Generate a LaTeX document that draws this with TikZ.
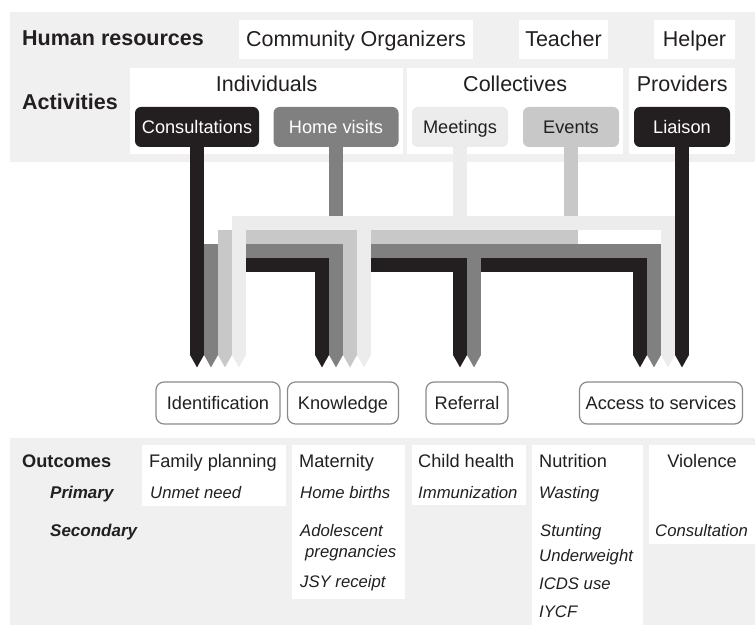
\documentclass[tikz,border=0pt]{standalone}
\usepackage{fontspec}
\setmainfont{Liberation Sans}
\usepackage{xcolor}
\usetikzlibrary{arrows.meta, positioning, calc}
\definecolor{ink}{HTML}{231F20}
\definecolor{inkgray}{HTML}{808080}
\definecolor{inklight}{HTML}{C8C8C8}
\definecolor{inkpale}{HTML}{EBECEB}
\definecolor{panelgray}{HTML}{F0F0F0}
\definecolor{framegray}{HTML}{8A8A8A}
\newcommand{\sizebig}{\fontsize{21.5}{25}\selectfont}
\newcommand{\sizesmall}{\fontsize{18.2}{22}\selectfont}
\newcommand{\sizeitem}{\fontsize{16.7}{20}\selectfont}
\tikzstyle{cell} = [rectangle, fill=white, draw=none, inner sep=0pt, anchor=north west]
\tikzstyle{hrbox} = [rectangle, fill=white, minimum height=39pt, text height=15pt, text depth=0pt, inner sep=0pt, font=\sizebig, text=ink]
\tikzstyle{heading} = [inner sep=0pt, anchor=base, font=\sizebig, text=ink]
\tikzstyle{rowhead} = [inner sep=0pt, anchor=base west, font=\sizebig\bfseries, text=ink]
\tikzstyle{activity} = [rectangle, rounded corners=6pt, minimum height=40pt, text height=13pt, text depth=0pt, inner sep=0pt, font=\sizesmall]
\tikzstyle{outcome} = [rectangle, rounded corners=8pt, draw=framegray, line width=1.2pt, fill=white, minimum height=42pt, text height=13pt, text depth=0pt, inner sep=0pt, font=\sizesmall, text=ink]
\tikzstyle{txt} = [inner sep=0pt, anchor=base west, font=\sizesmall, text=ink]
\tikzstyle{txtit} = [txt, font=\sizeitem\itshape]
\tikzstyle{txtbf} = [txt, font=\sizesmall\bfseries]
\tikzstyle{txtbi} = [txt, font=\fontsize{17}{20}\selectfont\bfseries\itshape]
\tikzstyle{flow} = [line width=14pt, -{Triangle[width=14pt, length=12.5pt, line width=0pt]}]
\begin{document}
\begin{tikzpicture}[x=1pt, y=-1pt]
    \useasboundingbox (0,0) rectangle (755,628);
    \fill[panelgray] (10,12) rectangle (755,162);
    \fill[panelgray] (10,438) rectangle (755,625);

    % resources and activities
    \node[rowhead] (hrlabel) at (22,46) {Human resources};
    \node[rowhead] (actlabel) at (22,110) {Activities};
    \node[hrbox, minimum width=234pt] (organizers) at (356,39.5) {Community Organizers};
    \node[hrbox, minimum width=89pt] (teacher) at (563.5,39.5) {Teacher};
    \node[hrbox, minimum width=81pt] (helper) at (694.5,39.5) {Helper};

    \node[cell, minimum width=273pt, minimum height=86pt] (individuals) at (130,68) {};
    \node[cell, minimum width=216pt, minimum height=86pt] (collectives) at (407,68) {};
    \node[cell, minimum width=106pt, minimum height=86pt] (providers) at (629,68) {};
    \node[heading] (indlabel) at ($(individuals.north)+(0,24)$) {Individuals};
    \node[heading] (collabel) at ($(collectives.north)+(0,24)$) {Collectives};
    \node[heading] (provlabel) at ($(providers.north)+(0,24)$) {Providers};

    \node[activity, fill=ink, text=white, minimum width=124pt] (consult) at (197,127) {Consultations};
    \node[activity, fill=inkgray, text=white, minimum width=125pt] (visits) at (336,127) {Home visits};
    \node[activity, fill=inkpale, text=ink, minimum width=96pt] (meetings) at (460,127) {Meetings};
    \node[activity, fill=inklight, text=ink, minimum width=96pt] (events) at (571,127) {Events};
    \node[activity, fill=ink, text=white, minimum width=96pt] (liaison) at (682,127) {Liaison};

    % intermediate outcomes
    \node[outcome, minimum width=124pt] (ident) at (218,403) {Identification};
    \node[outcome, minimum width=111pt] (knowledge) at (343,403) {Knowledge};
    \node[outcome, minimum width=82pt] (referral) at (467,403) {Referral};
    \node[outcome, minimum width=163pt] (access) at (661,403) {Access to services};

    % bus levels and arrow ends
    \coordinate (busV) at (0,223);
    \coordinate (busL) at (0,237);
    \coordinate (busG) at (0,251);
    \coordinate (busK) at (0,265);
    \foreach \c/\dx in {K/-21, G/-7, L/7, V/21} {
        \coordinate (ident\c) at ($(ident.north)+(\dx,-14)$);
        \coordinate (know\c) at ($(knowledge.north)+(\dx,-14)$);
    }
    \coordinate (refK) at ($(referral.north)+(-7,-14)$);
    \coordinate (refG) at ($(referral.north)+(7,-14)$);
    \coordinate (accK) at ($(access.north)+(-21,-14)$);
    \coordinate (accG) at ($(access.north)+(-7,-14)$);
    \coordinate (accV) at ($(access.north)+(7,-14)$);
    \coordinate (accP) at ($(access.north)+(21,-14)$);

    \draw[flow, ink] (liaison.south) -- (accP);
    \draw[flow, ink] (consult.south) -- (identK);
    \draw[flow, ink] (consult.south |- busK) -| (knowK);
    \draw[flow, ink] (consult.south |- busK) -| (refK);
    \draw[flow, ink] (consult.south |- busK) -| (accK);

    \draw[flow, inkgray] (visits.south) -- (knowG);
    \draw[flow, inkgray] (visits.south |- busG) -| (identG);
    \draw[flow, inkgray] (visits.south |- busG) -| (refG);
    \draw[flow, inkgray] (visits.south |- busG) -| (accG);

    \draw[flow, inklight] (events.south) |- (identL |- busL) -- (identL);
    \draw[flow, inklight] (events.south) |- (knowL |- busL) -- (knowL);

    \draw[flow, inkpale] (meetings.south) |- (identV |- busV) -- (identV);
    \draw[flow, inkpale] (meetings.south) |- (knowV |- busV) -- (knowV);
    \draw[flow, inkpale] (meetings.south) |- (accV |- busV) -- (accV);

    % final outcomes
    \node[cell, minimum width=144pt, minimum height=61pt] (famplan) at (142,445) {};
    \node[cell, minimum width=113pt, minimum height=154pt] (maternity) at (292,445) {};
    \node[cell, minimum width=114pt, minimum height=60pt] (childhealth) at (412,445) {};
    \node[cell, minimum width=111pt, minimum height=180pt] (nutrition) at (532,445) {};
    \node[cell, minimum width=106pt, minimum height=99pt] (violence) at (649,445) {};

    \node[txtbf] (outlabel) at (22,467) {Outcomes};
    \node[txtbi] (primlabel) at (50,498) {Primary};
    \node[txtbi] (seclabel) at (50,536) {Secondary};

    \node[txt] (fphead) at (149,467) {Family planning};
    \node[txtit] (fp1) at (150,498) {Unmet need};
    \node[txt] (mathead) at (299,467) {Maternity};
    \node[txtit] (mat1) at (300,498) {Home births};
    \node[txtit] (mat2) at (300,536) {Adolescent};
    \node[txtit] (mat3) at (305,557) {pregnancies};
    \node[txtit] (mat4) at (300,587) {JSY receipt};
    \node[txt] (chhead) at (418,467) {Child health};
    \node[txtit] (ch1) at (418,498) {Immunization};
    \node[txt] (nuthead) at (539,467) {Nutrition};
    \node[txtit] (nut1) at (539,498) {Wasting};
    \node[txtit] (nut2) at (540,536) {Stunting};
    \node[txtit] (nut3) at (539,561) {Underweight};
    \node[txtit] (nut4) at (539,589) {ICDS use};
    \node[txtit] (nut5) at (539,617) {IYCF};
    \node[txt, anchor=base] (viohead) at (702,467) {Violence};
    \node[txtit] (vio1) at (655,536) {Consultation};
\end{tikzpicture}
\end{document}
